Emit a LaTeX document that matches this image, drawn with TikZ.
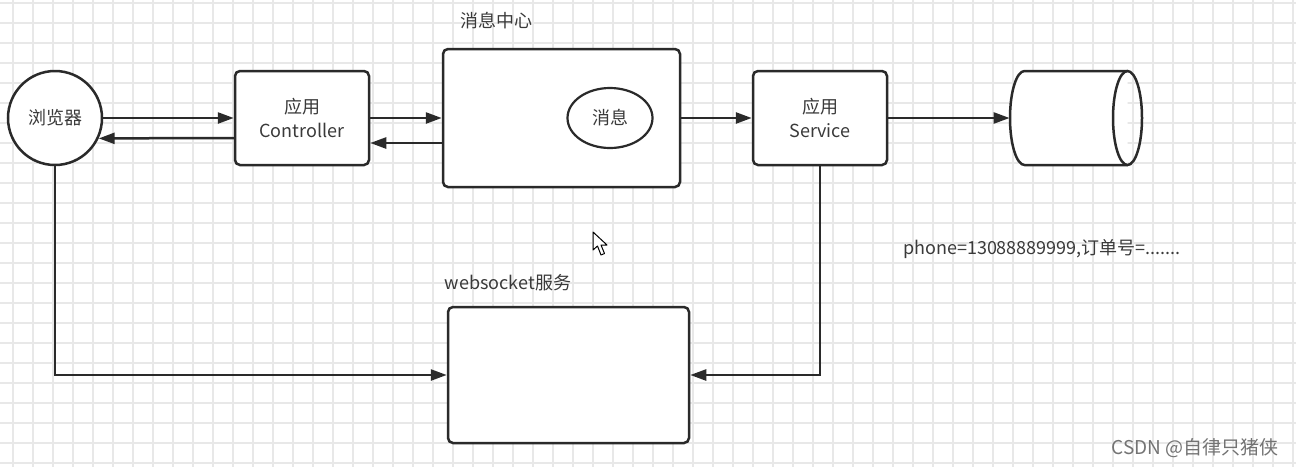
\documentclass[tikz,border=0pt]{standalone}
\usepackage{fontspec}
\setmainfont{Noto Sans CJK SC}
\usetikzlibrary{arrows.meta,shapes.geometric}
\definecolor{ink}{HTML}{2A2A2A}
\definecolor{txt}{HTML}{3A3A3A}
\definecolor{gridc}{HTML}{E8E8E8}
\tikzset{
  box/.style={draw=ink,line width=1.25pt,rounded corners=2.5pt,fill=white,inner sep=0pt,
    align=center,font=\fontsize{9}{12}\selectfont,text=txt},
  circ/.style={circle,draw=ink,line width=1.25pt,fill=white,inner sep=0pt,minimum size=47pt,
    font=\fontsize{9}{11}\selectfont,text=txt},
  ell/.style={ellipse,draw=ink,line width=1.1pt,fill=white,inner sep=0pt,
    minimum width=42.5pt,minimum height=30pt,font=\fontsize{9}{11}\selectfont,text=txt},
  lbl/.style={font=\fontsize{9}{11}\selectfont,text=txt,inner sep=0pt},
  arr/.style={draw=ink,line width=1.25pt,-{Triangle[length=8pt,width=5.5pt]}},
}
\begin{document}
\begin{tikzpicture}[x=0.5pt,y=-0.5pt]
\useasboundingbox (0,0) rectangle (1296,467);
\fill[white] (0,0) rectangle (1296,467);
% grid
\foreach \x in {13,33,...,1293} \draw[gridc,line width=0.6pt] (\x,0) -- (\x,467);
\foreach \y in {3,23,...,463} \draw[gridc,line width=0.6pt] (0,\y) -- (1296,\y);
% nodes
\node[circ] (br) at (55,118) {浏览器};
\node[box,minimum width=67pt,minimum height=47pt] (ctl) at (302,118) {应用\\Controller};
\node[box,minimum width=118.5pt,minimum height=69pt] (msg) at (561.5,118) {};
\node[lbl] (msglbl) at (496,21) {消息中心};
\node[ell] (m) at (610,118) {消息};
\node[box,minimum width=67pt,minimum height=47pt] (svc) at (820,118) {应用\\Service};
\node[box,minimum width=120.5pt,minimum height=68pt] (ws) at (568.5,375) {};
\node[lbl] (wslbl) at (508,283) {websocket服务};
\node[lbl] (info) at (1042,249) {phone=13088889999,订单号=.......};
% database cylinder
\node[inner sep=0pt,minimum width=66pt,minimum height=47pt] (db) at (1076,118) {};
\fill[white] (1024.5,71) -- (1127.5,71) -- (1127.5,165) -- (1024.5,165)
  arc[start angle=270,end angle=90,x radius=7.25pt,y radius=23.5pt] -- cycle;
\draw[ink,line width=1.25pt] (1127.5,71) -- (1024.5,71)
  arc[start angle=90,end angle=270,x radius=7.25pt,y radius=23.5pt] -- (1127.5,165);
\draw[ink,line width=1.25pt] (1127.5,118) ellipse[x radius=7.25pt,y radius=23.5pt];
% connectors
\draw[arr] (br.east) -- (ctl.west);
\draw[arr] ([yshift=-10pt]ctl.west) -- (br.-25);
\draw[arr] (ctl.east) -- (msg.west);
\draw[arr] ([yshift=-12.5pt]msg.west) -- ([yshift=-12.5pt]ctl.east);
\draw[arr] (msg.east) -- (svc.west);
\draw[arr] (svc.east) -- (db.west);
\draw[arr] (br.south) |- (ws.west);
\draw[arr] (svc.south) |- (ws.east);
% mouse cursor
\draw[black,fill=white,line width=0.5pt,line join=round] (593,232) -- (593,250) -- (597.5,246)
  -- (601,255) -- (604.5,253.5) -- (601,245) -- (607,245) -- cycle;
% watermark
\node[font=\fontsize{9.5}{11}\selectfont,text=black!55,inner sep=0pt] (wm) at (1195,448) {CSDN @自律只猪侠};
\end{tikzpicture}
\end{document}
